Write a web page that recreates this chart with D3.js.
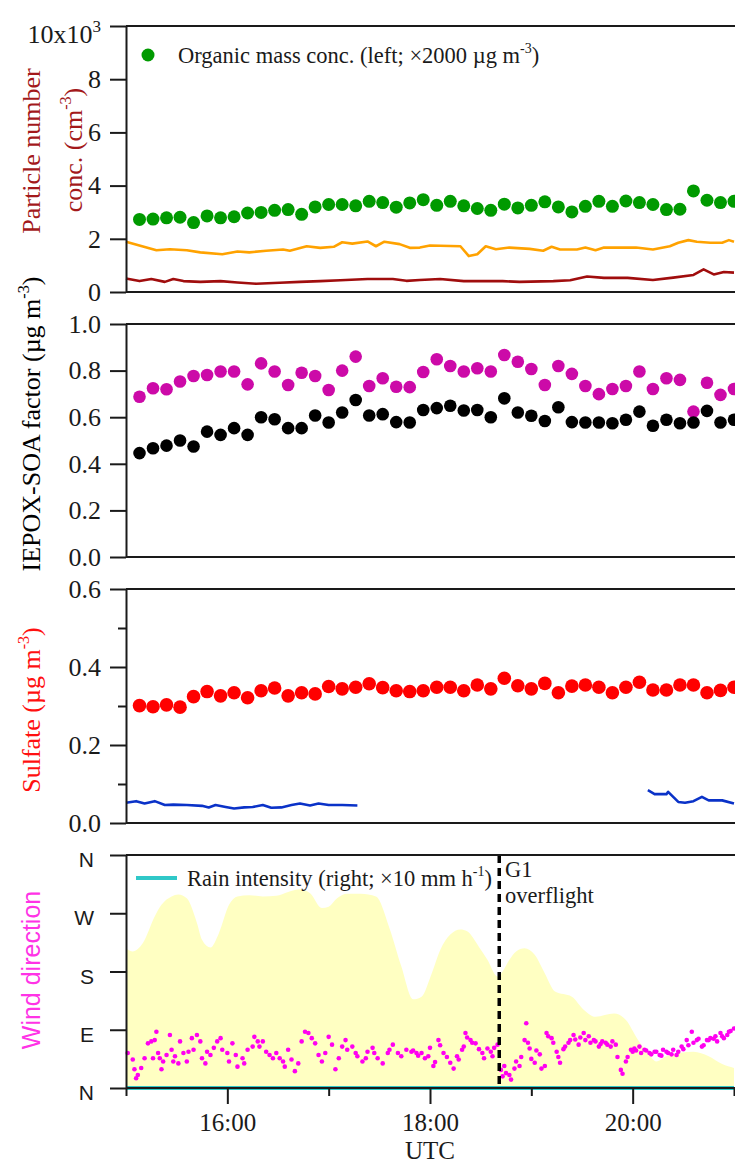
<!DOCTYPE html>
<html>
<head>
<meta charset="utf-8">
<script src="https://cdn.jsdelivr.net/npm/d3@7"></script>
<style>
  body { margin: 0; background: #fff; }
  svg { display: block; }
</style>
</head>
<body>
<div id="chart"></div>
<script>
// ---- data ----
// times of the 8-min averaged dot series (panels 1-3)
var dotTimes = ["15:08","15:16","15:24","15:32","15:40","15:48","15:56","16:04","16:12","16:20",
  "16:28","16:36","16:44","16:52","17:00","17:08","17:16","17:24","17:32","17:40",
  "17:48","17:56","18:04","18:12","18:20","18:28","18:36","18:44","18:52","19:00",
  "19:08","19:16","19:24","19:32","19:40","19:48","19:56","20:04","20:12","20:20",
  "20:28","20:36","20:44","20:52","21:00"];

// organic mass (x10^3 on left axis, i.e. x2000 ug m-3)
var organic = [2.73,2.74,2.79,2.81,2.61,2.86,2.79,2.83,2.97,2.99,
  3.07,3.10,2.92,3.20,3.29,3.29,3.24,3.41,3.36,3.19,
  3.35,3.47,3.26,3.41,3.24,3.14,3.07,3.30,3.16,3.26,
  3.39,3.20,3.01,3.22,3.41,3.22,3.42,3.36,3.29,3.10,
  3.11,3.80,3.45,3.36,3.41];

// IEPOX-SOA factor (magenta) and black series
var iepoxMagenta = [0.688,0.724,0.720,0.753,0.777,0.781,0.796,0.796,0.741,0.831,
  0.796,0.738,0.791,0.777,0.717,0.800,0.860,0.734,0.767,0.731,
  0.729,0.794,0.849,0.820,0.796,0.810,0.796,0.867,0.838,0.807,
  0.738,0.820,0.786,0.734,0.699,0.721,0.734,0.796,0.721,0.767,
  0.760,0.624,0.748,0.696,0.721];
var iepoxBlack = [0.446,0.467,0.478,0.500,0.474,0.538,0.524,0.553,0.524,0.600,
  0.591,0.553,0.553,0.607,0.577,0.620,0.674,0.607,0.613,0.579,
  0.577,0.631,0.639,0.649,0.629,0.631,0.600,0.681,0.620,0.606,
  0.584,0.643,0.579,0.577,0.577,0.574,0.589,0.624,0.563,0.589,
  0.574,0.577,0.627,0.577,0.589];

// sulfate
var sulfate = [0.301,0.298,0.303,0.297,0.324,0.337,0.326,0.334,0.321,0.339,
  0.346,0.326,0.334,0.331,0.350,0.344,0.348,0.357,0.347,0.339,
  0.337,0.339,0.348,0.348,0.339,0.354,0.344,0.371,0.352,0.344,
  0.358,0.334,0.351,0.354,0.348,0.334,0.348,0.361,0.341,0.341,
  0.354,0.354,0.334,0.340,0.348];

// particle number concentrations (x10^3 cm-3)
var orangeTimes = ["15:00","15:18","15:26","15:36","15:44","15:57","16:06","16:13","16:23","16:33",
  "16:37","16:47","16:55","17:03","17:08","17:14","17:23","17:28","17:33","17:42",
  "17:48","17:54","18:00","18:18","18:23","18:28","18:33","18:39","18:47","18:59",
  "19:07","19:12","19:17","19:27","19:32","19:38","19:43","19:53","20:02","20:12",
  "20:22","20:27","20:33","20:38","20:46","20:53","20:57","21:00"];
var orangeConc = [1.89,1.57,1.61,1.57,1.49,1.42,1.52,1.49,1.55,1.60,
  1.55,1.72,1.66,1.70,1.87,1.82,1.90,1.72,1.89,1.80,
  1.66,1.67,1.75,1.72,1.35,1.42,1.72,1.61,1.67,1.62,
  1.55,1.70,1.60,1.60,1.67,1.57,1.67,1.67,1.67,1.60,
  1.72,1.85,1.95,1.89,1.85,1.85,1.95,1.89];

var darkRedTimes = ["15:00","15:08","15:15","15:23","15:28","15:34","15:44","15:56","16:06","16:17",
  "16:31","16:43","16:55","17:07","17:23","17:38","17:46","17:54","18:06","18:20",
  "18:43","18:53","19:13","19:23","19:33","19:43","19:57","20:12","20:24","20:36",
  "20:42","20:48","20:54","21:00"];
var darkRedConc = [0.51,0.41,0.49,0.38,0.49,0.41,0.38,0.41,0.36,0.31,
  0.35,0.38,0.41,0.44,0.49,0.49,0.42,0.45,0.49,0.41,
  0.41,0.38,0.41,0.44,0.58,0.53,0.53,0.45,0.54,0.64,
  0.85,0.66,0.75,0.73];

// blue trace in sulfate panel (null = gap in data)
var blueTimes = ["15:00","15:06","15:11","15:17","15:23","15:28","15:36","15:45","15:49","15:53",
  "15:59","16:04","16:10","16:15","16:21","16:26","16:32","16:38","16:43","16:49",
  "16:54","17:00","17:08","17:17","17:18",
  "20:09","20:13","20:20","20:21","20:27","20:31","20:36","20:41","20:45","20:53","21:00"];
var blueVals = [0.052,0.056,0.050,0.056,0.046,0.047,0.046,0.044,0.040,0.046,
  0.041,0.037,0.040,0.041,0.046,0.039,0.040,0.046,0.050,0.045,
  0.050,0.046,0.046,0.045,null,
  0.084,0.074,0.074,0.080,0.054,0.052,0.056,0.067,0.058,0.058,0.050];

// yellow shaded series in wind panel (left-axis degrees equivalent)
var shadeTimes = ["15:00","15:04","15:10","15:17","15:21","15:27","15:31","15:36","15:42","15:45",
  "15:50","15:55","16:01","16:06","16:13","16:21","16:29","16:36","16:43","16:49",
  "16:56","17:00","17:05","17:11","17:19","17:28","17:36","17:43","17:50","17:55",
  "18:01","18:06","18:12","18:18","18:22","18:29","18:34","18:40","18:43","18:47",
  "18:51","18:56","19:02","19:08","19:14","19:24","19:31","19:38","19:49","19:56",
  "20:03","20:09","20:14","20:20","20:28","20:36","20:45","20:53","21:00"];
var shadeVals = [216,211,224,265,283,296,299,293,255,229,
  217,239,283,296,298,296,297,303,307,301,
  278,280,293,300,300,296,247,188,137,141,
  177,213,237,245,242,218,198,172,180,198,
  211,216,206,177,149,141,121,110,115,105,
  75,54,41,49,54,56,49,37,31];

// wind direction (degrees)
var windTimes = ["15:01","15:04","15:05","15:06","15:07","15:09","15:11","15:13","15:15","15:16",
  "15:17","15:18","15:19","15:20","15:21","15:22","15:24","15:26","15:27","15:28",
  "15:29","15:31","15:32","15:34","15:36","15:37","15:39","15:40","15:42","15:44",
  "15:45","15:47","15:48","15:50","15:52","15:54","15:56","15:57","16:00","16:01",
  "16:03","16:05","16:06","16:09","16:10","16:12","16:15","16:16","16:18","16:19",
  "16:21","16:23","16:25","16:27","16:29","16:31","16:33","16:34","16:36","16:38",
  "16:40","16:42","16:44","16:46","16:48","16:50","16:52","16:54","16:56","16:58",
  "17:00","17:02","17:04","17:06","17:08","17:10","17:11","17:14","17:16","17:17",
  "17:20","17:22","17:23","17:26","17:27","17:29","17:32","17:35","17:36","17:38",
  "17:41","17:43","17:46","17:49","17:50","17:52","17:53","17:55","17:57","17:59",
  "18:00","18:02","18:03","18:05","18:06","18:08","18:10","18:12","18:14","18:16",
  "18:17","18:19","18:20","18:21","18:22","18:24","18:25","18:27","18:29","18:31",
  "18:32","18:34","18:36","18:37","18:38","18:40","18:42","18:43","18:44","18:45",
  "18:47","18:48","18:50","18:51","18:53","18:54","18:56","18:57","18:58","18:59",
  "19:00","19:02","19:03","19:05","19:06","19:08","19:09","19:10","19:12","19:13",
  "19:15","19:16","19:17","19:19","19:20","19:22","19:23","19:25","19:26","19:28",
  "19:29","19:31","19:32","19:34","19:35","19:37","19:38","19:40","19:41","19:42",
  "19:44","19:45","19:47","19:48","19:50","19:51","19:53","19:54","19:56","19:57",
  "19:59","20:00","20:01","20:02","20:04","20:05","20:07","20:08","20:10","20:11",
  "20:13","20:14","20:16","20:17","20:18","20:20","20:21","20:23","20:24","20:26",
  "20:27","20:29","20:30","20:32","20:33","20:35","20:36","20:38","20:39","20:41",
  "20:42","20:44","20:45","20:46","20:48","20:49","20:50","20:52","20:53","20:54",
  "20:56","20:57","20:58","21:00"];
var windDir = [54,44,29,15,20,31,46,69,72,46,
  74,87,54,46,29,41,51,82,59,41,
  49,38,72,54,41,56,77,59,82,72,
  46,38,56,51,62,72,77,59,54,41,
  69,51,33,46,38,59,64,79,72,64,
  72,56,51,46,54,46,41,33,59,44,
  26,38,72,87,85,77,69,51,41,54,
  79,67,29,46,64,74,59,64,54,49,
  41,46,56,62,54,46,38,54,59,67,
  54,49,59,56,58,54,50,54,46,49,
  62,34,40,74,66,54,48,39,30,49,
  44,59,64,85,78,74,70,69,60,54,
  46,61,56,49,62,67,28,18,34,23,
  20,13,30,41,34,48,74,100,70,61,
  45,39,58,52,30,34,85,80,77,70,
  56,48,39,60,64,70,74,82,75,67,
  78,85,74,80,70,74,72,64,68,72,
  70,67,64,72,67,48,28,22,41,48,
  59,56,61,58,64,54,59,58,54,52,
  56,56,51,50,59,56,54,52,59,51,
  56,64,60,74,66,87,70,74,76,64,
  66,74,74,77,76,80,72,85,80,77,
  82,87,88,92];

var rainTimes = ["15:00", "21:00"];
var rainVals = [0, 0];

var overflightTime = "18:41";

var xMajorTicks = ["16:00", "18:00", "20:00"];
var xMinorTicks = ["15:00", "17:00", "19:00", "21:00"];
var windTicks = [0, 90, 180, 270, 360];
var windLabels = ["N", "E", "S", "W", "N"];

// ---- chart ----
var serif = "'Liberation Serif', 'Times New Roman', serif";
var sans = "'Liberation Sans', Arial, sans-serif";
var ink = "#1a1a1a";

var width = 735, height = 1167;
var left = 126, right = 734;

var svg = d3.select("#chart").append("svg")
    .attr("width", width)
    .attr("height", height);

var parseT = d3.timeParse("%H:%M");

var x = d3.scaleTime()
    .domain([parseT("15:00"), parseT("21:00")])
    .range([left, right]);

// y scales of the four panels
var y1 = d3.scaleLinear().domain([0, 10]).range([292, 26]);
var y2 = d3.scaleLinear().domain([0, 1]).range([557, 324]);
var y3 = d3.scaleLinear().domain([0, 0.6]).range([823, 589]);
var y4 = d3.scaleLinear().domain([0, 360]).range([1088, 855]);
var yRain = d3.scaleLinear().domain([0, 1]).range([1088, 855]);

function zip(times, vals) {
    return times.map(function (t, i) { return { t: parseT(t), v: vals[i] }; });
}

// writes a text made of [string, isSuperscript] parts
function rich(sel, parts, supSize, shift) {
    var up = false;
    parts.forEach(function (p) {
        var ts = sel.append("tspan").text(p[0]);
        if (p[1]) { ts.attr("dy", -shift).attr("font-size", supSize); up = true; }
        else if (up) { ts.attr("dy", shift); up = false; }
    });
}

function frame(y) {
    var r = y.range();
    svg.append("line").attr("x1", left).attr("x2", width + 5)
        .attr("y1", r[1]).attr("y2", r[1]).attr("stroke", ink).attr("stroke-width", 2);
    svg.append("line").attr("x1", left).attr("x2", width + 5)
        .attr("y1", r[0]).attr("y2", r[0]).attr("stroke", ink).attr("stroke-width", 2);
}

function leftAxis(y, ticks, fmt, minor) {
    if (minor) {
        var gm = svg.append("g").attr("transform", "translate(" + left + ",0)")
            .call(d3.axisLeft(y).tickValues(minor).tickSize(8).tickFormat("").tickSizeOuter(0));
        gm.select(".domain").remove();
        gm.selectAll("line").attr("stroke", ink).attr("stroke-width", 2);
    }
    var g = svg.append("g").attr("transform", "translate(" + left + ",0)")
        .call(d3.axisLeft(y).tickValues(ticks).tickFormat(fmt)
            .tickSize(16).tickPadding(9).tickSizeOuter(0));
    g.select(".domain").attr("stroke", ink).attr("stroke-width", 2);
    g.selectAll(".tick line").attr("stroke", ink).attr("stroke-width", 2);
    g.selectAll("text").attr("font-family", serif).attr("font-size", 26).attr("fill", ink);
    return g;
}

function dots(data, y, color, r) {
    svg.append("g").selectAll("circle")
        .data(data)
        .enter().append("circle")
        .attr("cx", function (d) { return x(d.t); })
        .attr("cy", function (d) { return y(d.v); })
        .attr("r", r)
        .attr("fill", color);
}

function trace(data, y, color, w) {
    svg.append("path")
        .datum(data)
        .attr("fill", "none")
        .attr("stroke", color)
        .attr("stroke-width", w)
        .attr("stroke-linejoin", "round")
        .attr("d", d3.line()
            .defined(function (d) { return d.v != null; })
            .x(function (d) { return x(d.t); })
            .y(function (d) { return y(d.v); }));
}

function yTitle(xPos, yPos, parts, color, font, size) {
    var t = svg.append("text")
        .attr("transform", "translate(" + xPos + "," + yPos + ") rotate(-90)")
        .attr("text-anchor", "middle")
        .attr("font-family", font)
        .attr("font-size", size)
        .attr("fill", color);
    rich(t, parts, size * 0.62, size * 0.42);
}

// ---------- panel 1 ----------
trace(zip(darkRedTimes, darkRedConc), y1, "#a00d0d", 2.6);
trace(zip(orangeTimes, orangeConc), y1, "#ffa200", 2.6);
dots(zip(dotTimes, organic), y1, "#009a00", 6.5);
frame(y1);
var g1 = leftAxis(y1, [0, 2, 4, 6, 8, 10], d3.format("d"));
g1.selectAll(".tick text").filter(function (d) { return d === 10; })
    .text(null).attr("dy", "0.62em")
    .call(function (t) { rich(t, [["10x10", false], ["3", true]], 17, 11); });

svg.append("circle").attr("cx", 148).attr("cy", 55).attr("r", 6.5).attr("fill", "#009a00");
var leg1 = svg.append("text").attr("x", 178).attr("y", 63)
    .attr("font-family", serif).attr("font-size", 22.5).attr("fill", ink);
rich(leg1, [["Organic mass conc. (left; \u00d72000 \u00b5g m", false], ["-3", true], [")", false]], 14, 10);

yTitle(40, 151, [["Particle number", false]], "#a3191b", serif, 26);
yTitle(82, 150, [["conc. (cm", false], ["-3", true], [")", false]], "#a3191b", serif, 26);

// ---------- panel 2 ----------
dots(zip(dotTimes, iepoxMagenta), y2, "#cc0aa8", 6.3);
dots(zip(dotTimes, iepoxBlack), y2, "#000000", 6.3);
frame(y2);
leftAxis(y2, [0, 0.2, 0.4, 0.6, 0.8, 1.0], d3.format(".1f"));
yTitle(40, 424, [["IEPOX-SOA  factor (\u00b5g m", false], ["-3", true], [")", false]], "#000", serif, 26);

// ---------- panel 3 ----------
trace(zip(blueTimes, blueVals), y3, "#0a32c8", 2.6);
dots(zip(dotTimes, sulfate), y3, "#ff0000", 6.8);
frame(y3);
leftAxis(y3, [0, 0.2, 0.4, 0.6], d3.format(".1f"), [0.1, 0.3, 0.5]);
yTitle(40, 710, [["Sulfate (\u00b5g m", false], ["-3", true], [")", false]], "#ff1010", serif, 26);

// ---------- panel 4 ----------
svg.append("path")
    .datum(zip(shadeTimes, shadeVals))
    .attr("fill", "#ffffc2")
    .attr("d", d3.area()
        .curve(d3.curveMonotoneX)
        .x(function (d) { return x(d.t); })
        .y0(y4(0))
        .y1(function (d) { return y4(d.v); }));

trace(zip(rainTimes, rainVals), yRain, "#30c8c8", 4);
dots(zip(windTimes, windDir), y4, "#ff00f0", 2.3);

svg.append("line")
    .attr("x1", x(parseT(overflightTime))).attr("x2", x(parseT(overflightTime)))
    .attr("y1", y4(360)).attr("y2", y4(0))
    .attr("stroke", "#000").attr("stroke-width", 3.5)
    .attr("stroke-dasharray", "8,5");

frame(y4);
var g4 = leftAxis(y4, windTicks, function (d, i) { return windLabels[i]; });
g4.selectAll(".tick text").attr("font-family", sans).attr("font-size", 21)
    .attr("x", -32).attr("dy", "0.55em");

// x axis
var gxm = svg.append("g").attr("transform", "translate(0," + y4(0) + ")")
    .call(d3.axisBottom(x).tickValues(xMinorTicks.map(parseT)).tickSize(8).tickFormat("").tickSizeOuter(0));
gxm.select(".domain").remove();
gxm.selectAll("line").attr("stroke", ink).attr("stroke-width", 2);

var gx = svg.append("g").attr("transform", "translate(0," + y4(0) + ")")
    .call(d3.axisBottom(x).tickValues(xMajorTicks.map(parseT)).tickFormat(d3.timeFormat("%H:%M"))
        .tickSize(16).tickPadding(9).tickSizeOuter(0));
gx.select(".domain").remove();
gx.selectAll("line").attr("stroke", ink).attr("stroke-width", 2);
gx.selectAll("text").attr("font-family", serif).attr("font-size", 25).attr("fill", ink);

svg.append("text").attr("x", x(parseT("18:00"))).attr("y", 1159)
    .attr("text-anchor", "middle").attr("font-family", serif).attr("font-size", 25)
    .attr("fill", ink).text("UTC");

// legend and annotation
svg.append("line").attr("x1", 136).attr("x2", 177).attr("y1", 878).attr("y2", 878)
    .attr("stroke", "#30c8c8").attr("stroke-width", 4);
var leg4 = svg.append("text").attr("x", 187).attr("y", 886)
    .attr("font-family", serif).attr("font-size", 22.5).attr("fill", ink);
rich(leg4, [["Rain intensity (right; \u00d710 mm h", false], ["-1", true], [")", false]], 14, 10);

var ann = svg.append("text").attr("font-family", serif).attr("font-size", 22.5).attr("fill", ink);
ann.append("tspan").attr("x", 505).attr("y", 877).text("G1");
ann.append("tspan").attr("x", 505).attr("y", 903).text("overflight");

yTitle(40, 970, [["Wind direction", false]], "#ff33e6", sans, 25);
</script>
</body>
</html>
